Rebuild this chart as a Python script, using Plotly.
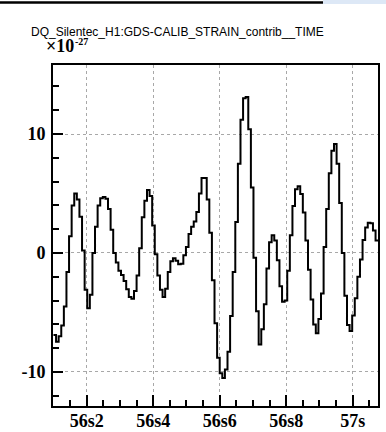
import plotly.graph_objects as go

# ---- data ----
t_start = 56.1
bin_width = 1.0 / 128.0
strain_e27 = [
    -6.9, -7.45, -7.0, -6.1, -4.5, -1.6, 1.4, 4.0, 5.0, 4.5,
    3.05, 0.2, -3.1, -4.65, -3.5, 0.0, 2.2, 4.0, 4.6, 4.7,
    4.55, 3.7, 1.95, 0.0, -0.8, -1.5, -1.85, -2.35, -3.05, -3.7,
    -3.85, -3.2, -1.9, 0.4, 3.0, 4.4, 5.3, 4.8, 2.3, -0.1,
    -1.9, -3.1, -3.7, -3.0, -1.6, -0.7, -0.45, -0.65, -0.95, -0.9,
    -0.2, 0.5, 1.6, 2.2, 2.65, 3.45, 5.0, 6.3, 6.3, 4.5,
    1.7, -2.3, -5.9, -8.8, -10.1, -10.5, -9.8, -8.3, -5.3, -1.6,
    2.6, 7.5, 11.2, 13.0, 13.1, 10.4, 5.5, -0.4, -4.9, -7.7,
    -6.4, -4.3, -1.3, 0.9, 1.5, 1.05, -0.6, -2.8, -4.1, -4.0,
    -1.5, 1.5, 3.95, 5.35, 5.6, 4.95, 3.4, 1.05, -1.4, -3.9,
    -6.0, -6.75, -5.55, -3.4, 0.5, 3.7, 6.7, 8.6, 9.15, 7.5,
    4.2, 0.0, -3.6, -6.05, -6.55, -5.25, -3.8, -2.0, -0.55, 1.1,
    2.15, 2.55, 2.5, 1.9, 1.05,
]
x_tickvals = [56.2, 56.4, 56.6, 56.8, 57.0]
x_ticktext = ["56s2", "56s4", "56s6", "56s8", "57s"]
y_tickvals = [-10, 0, 10]
y_ticktext = ["-10", "0", "10"]
title_text = "DQ_Silentec_H1:GDS-CALIB_STRAIN_contrib__TIME"
exponent_base = "×10"
exponent_power = "-27"

# step (histogram-like) representation
edges = [t_start + i * bin_width for i in range(len(strain_e27) + 1)]
yvals = strain_e27 + [strain_e27[-1]]

fig = go.Figure()
fig.add_trace(go.Scatter(
    x=edges, y=yvals, mode="lines",
    line=dict(color="black", width=2, shape="hv"),
    hoverinfo="skip", showlegend=False,
))

fig.update_layout(
    width=386, height=432,
    margin=dict(l=53, r=8, t=65, b=26),
    paper_bgcolor="white", plot_bgcolor="white",
    showlegend=False,
    xaxis=dict(
        range=[56.0986, 57.0761],
        automargin=False,
        tickmode="array", tickvals=x_tickvals, ticktext=x_ticktext,
        ticks="inside", ticklen=11, tickwidth=1.5, tickcolor="black",
        showline=True, linecolor="black", linewidth=2, mirror=True,
        showgrid=True, gridcolor="#a8a8a8", gridwidth=1, griddash="dot",
        zeroline=False,
        tickfont=dict(family="Liberation Serif", size=18, color="black", weight="bold"),
        ticklabelstandoff=-3,
        minor=dict(tickmode="linear", tick0=56.0, dtick=0.05,
                   ticks="inside", ticklen=6, tickwidth=1.5, tickcolor="black",
                   showgrid=False),
    ),
    yaxis=dict(
        range=[-12.86, 15.8],
        automargin=False,
        tickmode="array", tickvals=y_tickvals, ticktext=y_ticktext,
        ticks="inside", ticklen=10, tickwidth=1.5, tickcolor="black",
        showline=True, linecolor="black", linewidth=2, mirror=True,
        showgrid=True, gridcolor="#a8a8a8", gridwidth=1, griddash="dot",
        zeroline=False,
        tickfont=dict(family="Liberation Serif", size=18, color="black", weight="bold"),
        ticklabelstandoff=2,
        minor=dict(tickmode="linear", tick0=0, dtick=2,
                   ticks="inside", ticklen=6, tickwidth=1.5, tickcolor="black",
                   showgrid=False),
    ),
)

def px_x(p):
    return (p - 53) / 325.0

def px_y(p):
    return (406 - p) / 341.0

# title text
fig.add_annotation(
    xref="paper", yref="paper", x=px_x(177.5), y=px_y(32),
    text=title_text, showarrow=False, xanchor="center", yanchor="middle",
    font=dict(family="Liberation Sans", size=12, color="black"), borderpad=0,
)
# exponent label
fig.add_annotation(
    xref="paper", yref="paper", x=px_x(45), y=px_y(57),
    text=exponent_base, showarrow=False, xanchor="left", yanchor="bottom",
    font=dict(family="Liberation Serif", size=18, color="black", weight="bold"),
    borderpad=0,
)
fig.add_annotation(
    xref="paper", yref="paper", x=px_x(74), y=px_y(41),
    text=exponent_power, showarrow=False, xanchor="left", yanchor="middle",
    font=dict(family="Liberation Serif", size=10, color="black", weight="bold"),
    borderpad=0,
)

# screenshot artefacts at the very top
fig.add_shape(type="rect", xref="paper", yref="paper",
              x0=px_x(323), x1=px_x(387), y0=px_y(4), y1=px_y(-1),
              line=dict(width=0), fillcolor="#dde8f6", layer="above")
fig.add_shape(type="line", xref="paper", yref="paper",
              x0=px_x(0), x1=px_x(323), y0=px_y(2.5), y1=px_y(2.5),
              line=dict(color="black", width=2.5), layer="above")

fig.write_html("out.html")
